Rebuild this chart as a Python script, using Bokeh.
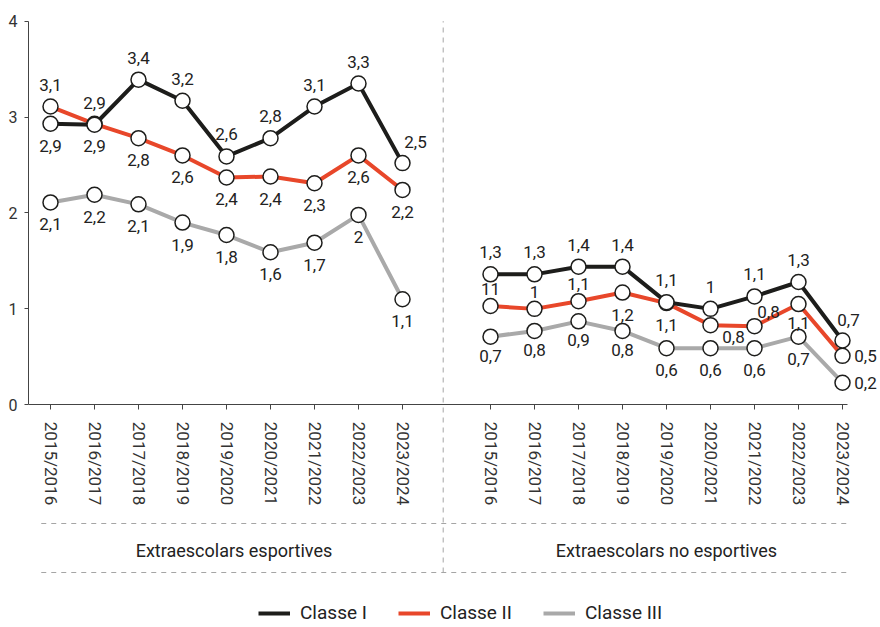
from bokeh.plotting import figure
from bokeh.models import (ColumnDataSource, LinearAxis, FixedTicker, Range1d,
                          Legend, LegendItem)
from bokeh.core.properties import value
from bokeh.embed import file_html
from bokeh.resources import INLINE

# ---------------- data ----------------
years = ["2015/2016", "2016/2017", "2017/2018", "2018/2019", "2019/2020",
         "2020/2021", "2021/2022", "2022/2023", "2023/2024"]
groups = ["Extraescolars esportives", "Extraescolars no esportives"]
classes = ["Classe I", "Classe II", "Classe III"]

esp_I = [2.93, 2.92, 3.39, 3.17, 2.59, 2.78, 3.11, 3.35, 2.52]
esp_II = [3.11, 2.93, 2.78, 2.60, 2.37, 2.38, 2.31, 2.60, 2.24]
esp_III = [2.11, 2.19, 2.09, 1.90, 1.77, 1.59, 1.69, 1.98, 1.10]
noesp_I = [1.36, 1.36, 1.44, 1.44, 1.07, 1.00, 1.13, 1.28, 0.67]
noesp_II = [1.03, 1.00, 1.08, 1.17, 1.06, 0.83, 0.82, 1.05, 0.51]
noesp_III = [0.71, 0.77, 0.87, 0.77, 0.59, 0.59, 0.59, 0.71, 0.23]

esp_I_lbl = ["2,9", "2,9", "3,4", "3,2", "2,6", "2,8", "3,1", "3,3", "2,5"]
esp_II_lbl = ["3,1", "2,9", "2,8", "2,6", "2,4", "2,4", "2,3", "2,6", "2,2"]
esp_III_lbl = ["2,1", "2,2", "2,1", "1,9", "1,8", "1,6", "1,7", "2", "1,1"]
noesp_I_lbl = ["1,3", "1,3", "1,4", "1,4", "1,1", "1", "1,1", "1,3", "0,7"]
noesp_II_lbl = ["11", "1", "1,1", "1,2", "1,1", "0,8", "0,8", "1,1", "0,5"]
noesp_III_lbl = ["0,7", "0,8", "0,9", "0,8", "0,6", "0,6", "0,6", "0,7", "0,2"]

# label placement codes (style)
esp_I_pos = ["b", "a", "a", "a", "a", "a", "a", "a", "ar"]
esp_II_pos = ["a", "b", "b", "b", "b", "b", "b", "b", "b"]
esp_III_pos = ["b"] * 9
noesp_I_pos = ["a"] * 8 + ["ar2"]
noesp_II_pos = ["a1", "a1", "a1", "b", "b", "br", "ar3", "b1", "r"]
noesp_III_pos = ["b1", "b1", "b1", "b1", "b", "b", "b", "b", "r"]

OFFS = {"a": (0, -22), "b": (0, 22), "ar": (13, -21), "ar2": (6, -21),
        "a1": (0, -17), "b1": (0, 19), "br": (23, 12), "ar3": (14, -14),
        "r": (23, 0)}

BLACK = "#1d1d1b"
RED = "#e8472a"
GRAY = "#a9a9a9"
DASH = "#a5a5a5"
FONT = "Roboto"

# ---------------- layout constants (pixels of the page) ----------------
FIG_W, FIG_H = 878, 625
BORDER_L, BORDER_T = 28, 20
PX_PER_UNIT = 95.9           # vertical pixels per unit of value
FRAME_H = FIG_H - BORDER_T
Y_TOP = 4.007
Y_BOTTOM = Y_TOP - FRAME_H / PX_PER_UNIT
X_START = -0.5
X_END = X_START + (FIG_W - BORDER_L) / 44.0


def ypx(page_y):
    """value coordinate of a pixel row of the picture"""
    return Y_TOP - (page_y - BORDER_T) / PX_PER_UNIT


x_left = list(range(len(years)))
x_right = [i + len(years) + 1 for i in range(len(years))]
sep_x = 8.925
group_x = [4.17, 14.0]

p = figure(width=FIG_W, height=FIG_H, x_range=Range1d(X_START, X_END),
           y_range=Range1d(Y_BOTTOM, Y_TOP), x_axis_type=None,
           toolbar_location=None, output_backend="svg",
           min_border_left=BORDER_L, min_border_right=0,
           min_border_top=BORDER_T, min_border_bottom=0)
p.outline_line_color = None
p.ygrid.visible = False

# separators and group area (dashed)
p.segment(x0=[sep_x], y0=[ypx(572)], x1=[sep_x], y1=[4.0],
          line_color=DASH, line_width=1, line_dash="5 5")
p.segment(x0=[-0.21, -0.21], y0=[ypx(523), ypx(572)], x1=[18.16, 18.16],
          y1=[ypx(523), ypx(572)], line_color=DASH, line_width=1, line_dash="5 5")
p.text(x=group_x, y=[ypx(550)] * 2, text=groups, text_align="center",
       text_baseline="middle", text_font=value(FONT), text_font_size="18px",
       text_color="#222222")

series = [
    (classes[2], GRAY, esp_III, noesp_III, esp_III_lbl, noesp_III_lbl, esp_III_pos, noesp_III_pos),
    (classes[1], RED, esp_II, noesp_II, esp_II_lbl, noesp_II_lbl, esp_II_pos, noesp_II_pos),
    (classes[0], BLACK, esp_I, noesp_I, esp_I_lbl, noesp_I_lbl, esp_I_pos, noesp_I_pos),
]

legend_renderers = {}
label_x, label_y, label_t, label_dx, label_dy = [], [], [], [], []
for name, col, left, right, llbl, rlbl, lpos, rpos in series:
    r = p.line(x_left, left, line_color=col, line_width=4, line_join="round")
    p.line(x_right, right, line_color=col, line_width=4, line_join="round")
    legend_renderers[name] = r
    p.scatter(x_left + x_right, left + right, marker="circle", size=15,
              fill_color="white", line_color=BLACK, line_width=1.5)
    for xs, ys, ls, ps in ((x_left, left, llbl, lpos), (x_right, right, rlbl, rpos)):
        for xv, yv, lv, pv in zip(xs, ys, ls, ps):
            label_x.append(xv)
            label_y.append(yv)
            label_t.append(lv)
            label_dx.append(OFFS[pv][0])
            label_dy.append(OFFS[pv][1])

src = ColumnDataSource(dict(x=label_x, y=label_y, text=label_t,
                            dx=label_dx, dy=label_dy))
p.text(x="x", y="y", text="text", x_offset="dx", y_offset="dy", source=src,
       text_align="center", text_baseline="middle",
       text_font=value(FONT), text_font_size="17px", text_color="#222222")

# ---------------- y axis ----------------
yax = p.yaxis[0]
yax.ticker = FixedTicker(ticks=[0, 1, 2, 3, 4])
yax.bounds = (0, 4)
yax.major_tick_out = 4
yax.major_tick_in = 0
yax.minor_tick_line_color = None
yax.axis_line_color = "#444444"
yax.major_tick_line_color = "#444444"
yax.major_label_text_font = FONT
yax.major_label_text_font_size = "16px"
yax.major_label_text_color = "#333333"
yax.major_label_standoff = 7

# ---------------- x axis with years, fixed at value 0 ----------------
ticks = x_left + x_right
overrides = {t: y for t, y in zip(ticks, years + years)}
ax1 = LinearAxis(ticker=FixedTicker(ticks=ticks), major_label_overrides=overrides,
                 fixed_location=0, bounds=(-0.5, 18.11),
                 major_label_orientation="vertical",
                 major_tick_out=5, major_tick_in=0, minor_tick_line_color=None,
                 axis_line_color="#444444", major_tick_line_color="#444444",
                 major_label_text_font=FONT, major_label_text_font_size="17px",
                 major_label_text_color="#333333", major_label_standoff=12)
p.add_layout(ax1, "below")

legend = Legend(items=[LegendItem(label=n, renderers=[legend_renderers[n]]) for n in classes],
                orientation="horizontal", location=(230, 1), glyph_width=32,
                glyph_height=20, label_height=20, label_standoff=10, spacing=31,
                padding=0, margin=0, border_line_color=None,
                background_fill_alpha=0, label_text_font=FONT,
                label_text_font_size="19px", label_text_color="#222222")
p.add_layout(legend)

open("out.html", "w").write(file_html(p, INLINE))
